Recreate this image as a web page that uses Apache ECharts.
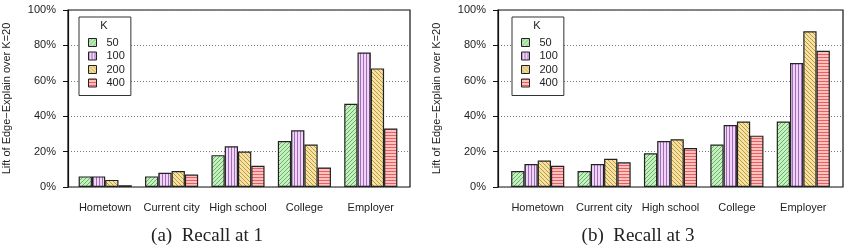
<!DOCTYPE html>
<html>
<head>
<meta charset="utf-8">
<script src="https://cdn.jsdelivr.net/npm/echarts@6/dist/echarts.min.js"></script>
<style>
  html, body { margin: 0; padding: 0; background: #fff; }
  #chart { width: 852px; height: 248px; }
</style>
</head>
<body>
<div id="chart"></div>
<script>
  // categories and K values
  const categories = ['Hometown', 'Current city', 'High school', 'College', 'Employer'];
  const kLabels = ['50', '100', '200', '400'];
  const yTicks = [0, 20, 40, 60, 80, 100];

  // (a) Recall at 1
  const recall1K50 = [6, 6, 18, 26, 47];
  const recall1K100 = [6, 8, 23, 32, 76];
  const recall1K200 = [4, 9, 20, 24, 67];
  const recall1K400 = [1, 7, 12, 11, 33];

  // (b) Recall at 3
  const recall3K50 = [9, 9, 19, 24, 37];
  const recall3K100 = [13, 13, 26, 35, 70];
  const recall3K200 = [15, 16, 27, 37, 88];
  const recall3K400 = [12, 14, 22, 29, 77];

  const recall1 = [recall1K50, recall1K100, recall1K200, recall1K400];
  const recall3 = [recall3K50, recall3K100, recall3K200, recall3K400];

  const font = '"Liberation Sans", Arial, sans-serif';

  // hatch patterns like gnuplot fills
  function makePattern(bg, line, kind) {
    const c = document.createElement('canvas');
    c.width = 4; c.height = 4;
    const g = c.getContext('2d');
    g.fillStyle = bg;
    g.fillRect(0, 0, 4, 4);
    g.strokeStyle = line;
    g.lineWidth = 1;
    g.beginPath();
    if (kind === 'slash') {
      g.moveTo(-1, 5); g.lineTo(5, -1);
      g.moveTo(-1, 1); g.lineTo(1, -1);
      g.moveTo(3, 5); g.lineTo(5, 3);
    } else if (kind === 'back') {
      g.moveTo(-1, -1); g.lineTo(5, 5);
      g.moveTo(3, -1); g.lineTo(5, 1);
      g.moveTo(-1, 3); g.lineTo(1, 5);
    } else if (kind === 'vert') {
      c.width = 3; c.height = 3;
      g.fillStyle = bg; g.fillRect(0, 0, 3, 3);
      g.fillStyle = line; g.fillRect(0, 0, 1, 3);
    } else {
      c.width = 3; c.height = 3;
      g.fillStyle = bg; g.fillRect(0, 0, 3, 3);
      g.fillStyle = line; g.fillRect(0, 0, 3, 1);
    }
    g.stroke();
    return { image: c, repeat: 'repeat' };
  }

  const fills = [
    makePattern('#c8efc2', '#62b862', 'slash'),
    makePattern('#efd6f6', '#a468bc', 'vert'),
    makePattern('#f6e2a4', '#bc9c3c', 'back'),
    makePattern('#ffc0c0', '#e86060', 'horiz')
  ];

  const frameGrids = [
    { left: 66, top: 10, width: 344, height: 177 },
    { left: 498, top: 10, width: 345, height: 177 }
  ];
  const barGrids = [
    { left: 72, top: 10, width: 332, height: 177 },
    { left: 504.5, top: 10, width: 332, height: 177 }
  ];

  const grid = [];
  const xAxis = [];
  const yAxis = [];
  const series = [];
  const legend = [];
  const graphic = [];

  [recall1, recall3].forEach((panel, p) => {
    const fi = grid.length;
    grid.push(Object.assign({ show: true, borderColor: '#111', borderWidth: 1.2 }, frameGrids[p]));
    const bi = grid.length;
    grid.push(Object.assign({}, barGrids[p]));

    // frame axes: y labels, dotted grid
    xAxis.push({ type: 'value', gridIndex: fi, min: 0, max: 1, show: false });
    yAxis.push({
      type: 'value', gridIndex: fi, min: yTicks[0], max: yTicks[yTicks.length - 1], interval: 20,
      axisLine: { show: true, lineStyle: { color: '#111', width: 1.2 } },
      axisTick: { show: true, length: 5, lineStyle: { color: '#111' } },
      axisLabel: { formatter: '{value}%', fontSize: 11, color: '#222', fontFamily: font, margin: 12 },
      splitLine: { show: true, lineStyle: { color: '#777', type: [1, 2], width: 1 } },
      name: 'Lift of Edge\u2212Explain over K=20', nameLocation: 'middle', nameGap: 56,
      nameTextStyle: { fontSize: 11, color: '#222', fontFamily: font }
    });

    // bar axes
    const xi = xAxis.length;
    xAxis.push({
      type: 'category', gridIndex: bi, data: categories,
      axisLine: { show: false }, axisTick: { show: false },
      axisLabel: { interval: 0, fontSize: 11, color: '#222', fontFamily: font, margin: 15 }
    });
    const yi = yAxis.length;
    yAxis.push({ type: 'value', gridIndex: bi, min: 0, max: 100, show: false, splitLine: { show: false } });

    panel.forEach((vals, k) => {
      series.push({
        name: kLabels[k], type: 'bar', xAxisIndex: xi, yAxisIndex: yi,
        data: vals, barGap: '0%', barCategoryGap: '20%',
        itemStyle: { color: fills[k], borderColor: '#222', borderWidth: 1.2 },
        emphasis: { disabled: true }, z: 3
      });
    });

    const legLeft = p === 0 ? 79 : 512;
    legend.push({
      data: kLabels, orient: 'vertical', left: legLeft, top: 17,
      padding: [20, 6, 7, 9], itemGap: 2.5, itemWidth: 8, itemHeight: 8, icon: 'rect',
      backgroundColor: '#fff', borderColor: '#333', borderWidth: 1,
      itemStyle: { borderColor: '#222', borderWidth: 1 },
      textStyle: { fontSize: 11, color: '#222', fontFamily: font, padding: [0, 0, 0, 5] },
      selectedMode: false
    });
    graphic.push({
      type: 'text', x: legLeft + 25, y: 26, z: 100,
      style: { text: 'K', textAlign: 'center', textVerticalAlign: 'middle', font: '11px ' + font, fill: '#222' }
    });
    graphic.push({
      type: 'text', x: p === 0 ? 207 : 638, y: 236,
      style: { text: p === 0 ? '(a)  Recall at 1' : '(b)  Recall at 3', textAlign: 'center', textVerticalAlign: 'middle',
        font: '19px "Liberation Serif", "DejaVu Serif", serif', fill: '#222' }
    });
  });

  const chart = echarts.init(document.getElementById('chart'));
  chart.setOption({
    animation: false,
    backgroundColor: '#fff',
    grid: grid,
    xAxis: xAxis,
    yAxis: yAxis,
    legend: legend,
    series: series,
    graphic: graphic
  });
</script>
</body>
</html>
